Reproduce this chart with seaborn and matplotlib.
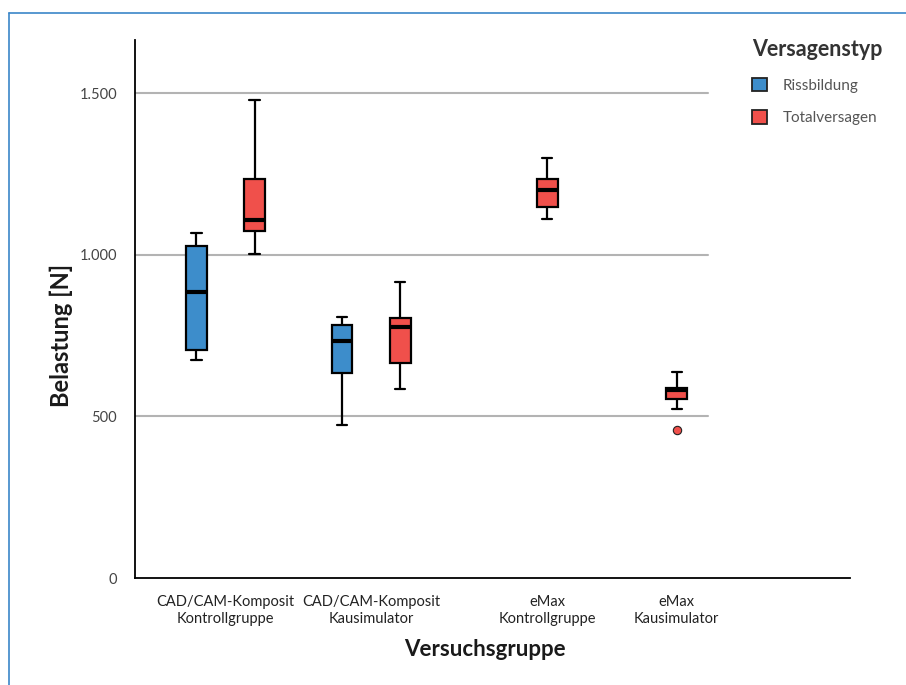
import matplotlib
matplotlib.use("Agg")
import matplotlib.pyplot as plt
from matplotlib.lines import Line2D
from matplotlib.patches import Patch
import numpy as np
import pandas as pd
import seaborn as sns

# values: whisker low, Q1, median, Q3, whisker high
groups = ["CAD/CAM-Komposit\nKontrollgruppe", "CAD/CAM-Komposit\nKausimulator",
          "eMax\nKontrollgruppe", "eMax\nKausimulator"]
types = ["Rissbildung", "Totalversagen"]

riss_k = [674, 706, 885, 1029, 1067]
total_k = [1002, 1073, 1108, 1236, 1479]
riss_kau = [475, 633, 735, 784, 807]
total_kau = [584, 666, 776, 805, 916]
emax_total_k = [1111, 1147, 1201, 1236, 1299]
emax_total_kau = [524, 554, 582, 587, 638]
emax_total_kau_outlier = [457]

yticks = [0, 500, 1000, 1500]
ytick_labels = ["0", "500", "1.000", "1.500"]

colors = {"Rissbildung": "#3d8dcb", "Totalversagen": "#f0504b"}

# layout: horizontal placement of groups and hue offset
group_pos = [0, 1, 2.21, 3.1]
hue_off = 0.2

rows = []
def add(g, t, vals, offset):
    for v in vals:
        rows.append({"group": groups[g], "type": t, "x": group_pos[g] + offset, "value": v})

add(0, types[0], riss_k, -hue_off)
add(0, types[1], total_k, hue_off)
add(1, types[0], riss_kau, -hue_off)
add(1, types[1], total_kau, hue_off)
add(2, types[1], emax_total_k, 0)
add(3, types[1], emax_total_kau, 0)
df = pd.DataFrame(rows)

out_df = pd.DataFrame({"x": [group_pos[3]] * len(emax_total_kau_outlier),
                       "value": emax_total_kau_outlier})

sns.set_style("white")
plt.rcParams["font.family"] = ["Lato", "DejaVu Sans"]

fig = plt.figure(figsize=(9.06, 6.85), dpi=100)
ax = fig.add_axes([135 / 906, 1 - 578 / 685, 715 / 906, 538 / 685])

sns.boxplot(data=df, x="x", y="value", hue="type", hue_order=types, palette=colors,
            native_scale=True, dodge=False, width=0.36, whis=(0, 100), saturation=1,
            linecolor="black", linewidth=1.6,
            medianprops=dict(linewidth=3, color="black"),
            legend=False, ax=ax, zorder=3)
sns.scatterplot(data=out_df, x="x", y="value", color=colors["Totalversagen"],
                edgecolor="#222222", linewidth=0.8, s=36, ax=ax, zorder=4, legend=False)

ax.set_xlim(-0.622, 4.29)
ax.set_ylim(0, 1665)

for y in yticks[1:]:
    ax.axhline(y, xmin=0, xmax=0.801, color="#b3b3b3", lw=1.5, zorder=1)

ax.set_yticks(yticks)
ax.set_yticklabels(ytick_labels, fontsize=10.5, color="#444444")
ax.set_xticks(group_pos)
ax.set_xticklabels(groups, fontsize=10.5, color="#222222", linespacing=1.3)
ax.tick_params(axis="both", length=0)
ax.tick_params(axis="y", pad=13)
ax.tick_params(axis="x", pad=12)

for s in ["top", "right"]:
    ax.spines[s].set_visible(False)
for s in ["left", "bottom"]:
    ax.spines[s].set_color("black")
    ax.spines[s].set_linewidth(1.3)

ax.set_xlabel("Versuchsgruppe", fontsize=16, fontweight="bold", color="#1a1a1a")
ax.set_ylabel("Belastung [N]", fontsize=17, fontweight="bold", color="#1a1a1a")
ax.xaxis.set_label_coords(0.49, -0.113)
ax.yaxis.set_label_coords(-0.087, 0.45)

handles = [Patch(facecolor=colors[t], edgecolor="#222222", linewidth=1.3, label=t) for t in types]
leg = fig.legend(handles=handles, loc="upper left", bbox_to_anchor=(0.815, 0.963),
                 frameon=False, title="Versagenstyp", fontsize=11,
                 handlelength=1.0, handleheight=1.0, labelspacing=1.15,
                 handletextpad=1.0, alignment="left")
leg.get_title().set_fontweight("bold")
leg.get_title().set_fontsize(15.5)
leg.get_title().set_color("#333333")
for t in leg.get_texts():
    t.set_color("#555555")

# thin blue frame on top and left
fig.add_artist(Line2D([9 / 906, 1], [1 - 13 / 685] * 2, color="#3b86c8", lw=1.2))
fig.add_artist(Line2D([9 / 906] * 2, [0, 1 - 13 / 685], color="#3b86c8", lw=1.2))

fig.savefig("out.png", dpi=100)
